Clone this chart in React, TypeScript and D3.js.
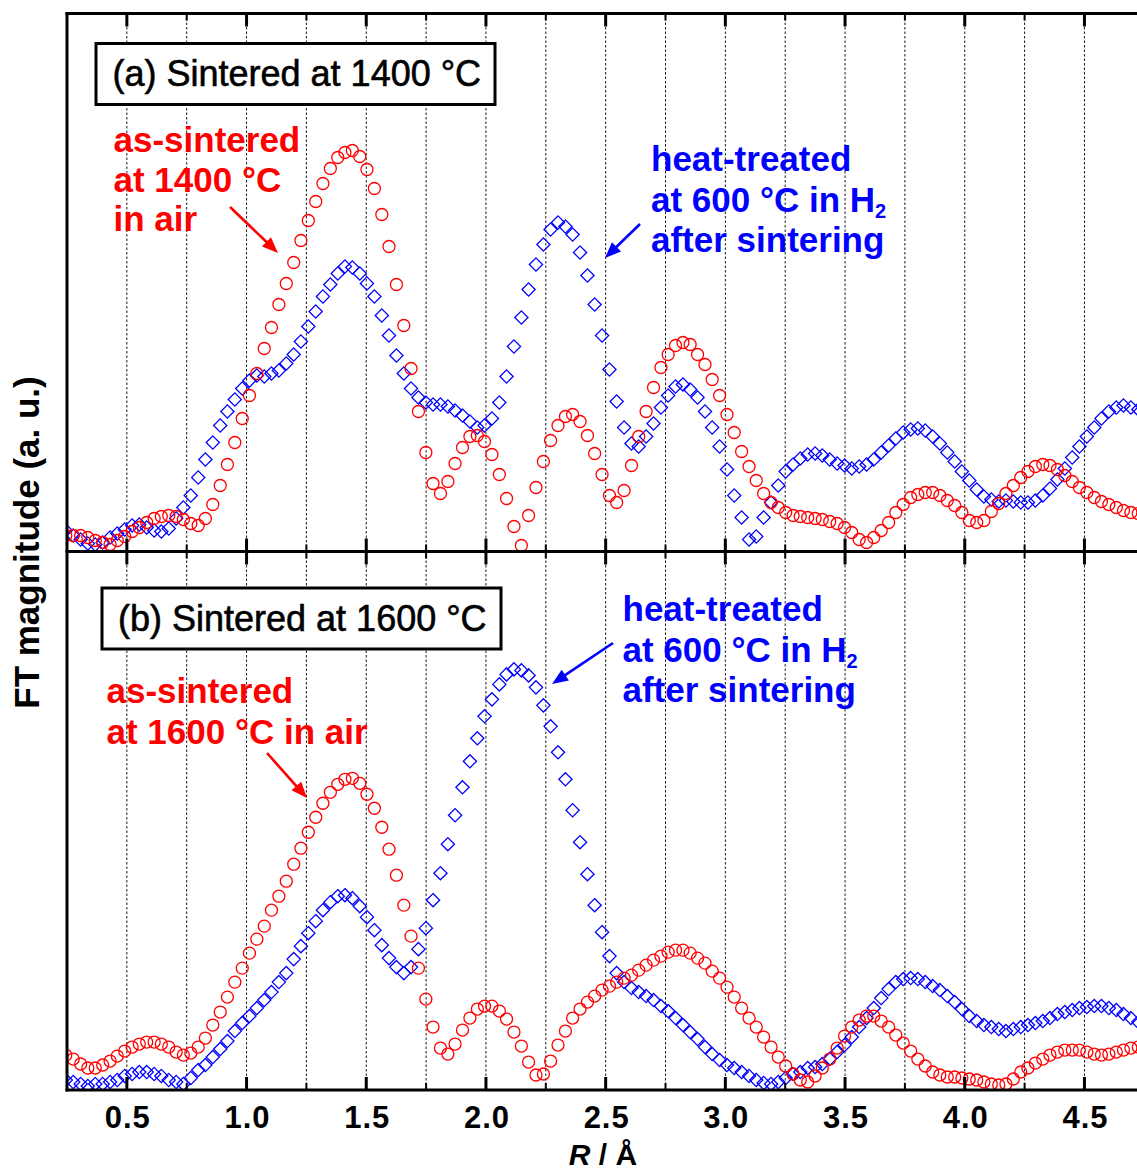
import { useEffect, useRef } from 'react';
import * as d3 from 'd3';

// R grid (Å) of the Fourier transform, one entry per plotted point
const rValues = [
  0.245, 0.276, 0.307, 0.337, 0.368, 0.399, 0.430, 0.460, 0.491, 0.522,
  0.552, 0.583, 0.614, 0.644, 0.675, 0.706, 0.736, 0.767, 0.798, 0.828,
  0.859, 0.890, 0.920, 0.951, 0.982, 1.012, 1.043, 1.074, 1.104, 1.135,
  1.166, 1.197, 1.227, 1.258, 1.289, 1.319, 1.350, 1.381, 1.411, 1.442,
  1.473, 1.503, 1.534, 1.565, 1.595, 1.626, 1.657, 1.687, 1.718, 1.749,
  1.779, 1.810, 1.841, 1.871, 1.902, 1.933, 1.964, 1.994, 2.025, 2.056,
  2.086, 2.117, 2.148, 2.178, 2.209, 2.240, 2.270, 2.301, 2.332, 2.362,
  2.393, 2.424, 2.454, 2.485, 2.516, 2.546, 2.577, 2.608, 2.638, 2.669,
  2.700, 2.731, 2.761, 2.792, 2.823, 2.853, 2.884, 2.915, 2.945, 2.976,
  3.007, 3.037, 3.068, 3.099, 3.129, 3.160, 3.191, 3.221, 3.252, 3.283,
  3.313, 3.344, 3.375, 3.405, 3.436, 3.467, 3.498, 3.528, 3.559, 3.590,
  3.620, 3.651, 3.682, 3.712, 3.743, 3.774, 3.804, 3.835, 3.866, 3.896,
  3.927, 3.958, 3.988, 4.019, 4.050, 4.080, 4.111, 4.142, 4.172, 4.203,
  4.234, 4.264, 4.295, 4.326, 4.356, 4.387, 4.418, 4.449, 4.479, 4.510,
  4.541, 4.571, 4.602, 4.633, 4.663, 4.694, 4.725,
];

// (a) as-sintered at 1400 °C in air (red circles)
const asSintered1400 = [
  1.6, 1.6, 1.6, 1.4, 1.1, 0.9, 0.7, 1.1, 1.5, 2.0,
  2.4, 2.9, 3.3, 3.5, 3.6, 3.5, 3.2, 2.8, 2.6, 3.3,
  4.7, 6.6, 8.7, 10.9, 13.3, 15.6, 17.8, 20.3, 22.4, 24.7,
  26.8, 28.9, 31.1, 33.1, 35.0, 36.8, 38.3, 39.4, 39.9, 40.1,
  39.5, 38.2, 36.3, 33.7, 30.5, 26.7, 22.6, 18.3, 14.0, 9.9,
  6.8, 5.8, 7.0, 8.8, 10.4, 11.5, 11.6, 11.0, 9.7, 7.7,
  5.3, 2.5, 0.6, 3.6, 6.4, 9.0, 11.1, 12.6, 13.5, 13.7,
  13.0, 11.6, 9.8, 7.7, 5.6, 4.9, 6.1, 8.6, 11.5, 14.0,
  16.4, 18.4, 19.7, 20.6, 20.9, 20.7, 19.7, 18.7, 17.2, 15.6,
  13.7, 11.9, 10.0, 8.5, 7.1, 5.8, 4.9, 4.4, 3.9, 3.6,
  3.5, 3.4, 3.3, 3.2, 3.0, 2.8, 2.4, 1.9, 1.2, 0.9,
  1.4, 2.1, 2.9, 3.9, 4.7, 5.4, 5.7, 5.9, 5.9, 5.6,
  5.1, 4.6, 3.9, 3.1, 2.9, 3.1, 4.0, 4.8, 5.8, 6.6,
  7.4, 8.0, 8.5, 8.7, 8.6, 8.2, 7.6, 7.0, 6.4, 5.9,
  5.4, 5.0, 4.7, 4.4, 4.1, 3.9, 3.8,
];

// (a) heat-treated at 600 °C in H2 after sintering at 1400 °C (blue diamonds)
const heatTreated1400 = [
  2.1, 1.6, 1.2, 0.8, 0.7, 0.9, 1.4, 1.8, 2.2, 2.6,
  2.7, 2.4, 2.1, 2.0, 2.3, 3.3, 4.4, 5.6, 7.4, 9.2,
  10.9, 12.6, 14.0, 15.2, 16.3, 17.1, 17.6, 17.5, 17.8, 18.1,
  18.8, 19.7, 21.0, 22.5, 24.0, 25.5, 26.7, 27.8, 28.5, 28.4,
  27.8, 26.8, 25.5, 23.6, 21.6, 19.6, 17.8, 16.3, 15.4, 14.9,
  14.7, 14.7, 14.5, 14.1, 13.6, 13.0, 12.4, 12.6, 13.3, 14.9,
  17.5, 20.5, 23.4, 26.2, 28.7, 30.7, 32.2, 32.9, 32.5, 31.7,
  29.9, 27.6, 24.7, 21.6, 18.2, 15.0, 12.4, 10.8, 10.5, 11.5,
  12.8, 14.4, 15.6, 16.5, 16.7, 16.2, 15.4, 14.0, 12.4, 10.5,
  8.2, 5.6, 3.4, 1.2, 1.5, 3.4, 4.9, 6.6, 8.0, 8.7,
  9.3, 9.7, 9.8, 9.6, 9.2, 8.8, 8.6, 8.3, 8.5, 8.7,
  9.2, 9.9, 10.6, 11.3, 11.9, 12.2, 12.3, 12.1, 11.5, 10.8,
  9.9, 9.0, 8.0, 7.1, 6.2, 5.5, 5.2, 5.0, 5.1, 5.0,
  4.9, 4.9, 5.1, 5.6, 6.3, 7.2, 8.3, 9.4, 10.5, 11.5,
  12.4, 13.3, 14.0, 14.4, 14.6, 14.4, 14.2,
];

// (b) as-sintered at 1600 °C in air (red circles)
const asSintered1600 = [
  3.5, 3.1, 2.6, 2.2, 2.2, 2.5, 2.9, 3.4, 3.9, 4.3,
  4.6, 4.8, 4.8, 4.6, 4.3, 3.8, 3.5, 3.7, 4.3, 5.2,
  6.5, 7.8, 9.3, 10.8, 12.2, 13.7, 15.1, 16.4, 18.0, 19.4,
  20.9, 22.6, 24.2, 25.8, 27.3, 28.7, 29.8, 30.6, 31.1, 31.2,
  30.7, 29.6, 28.2, 26.3, 24.1, 21.5, 18.5, 15.4, 12.2, 9.1,
  6.3, 4.2, 3.6, 4.6, 6.0, 7.2, 8.1, 8.4, 8.4, 7.9,
  7.1, 5.8, 4.4, 2.8, 1.5, 1.6, 2.9, 4.5, 5.9, 7.2,
  8.1, 8.8, 9.4, 10.0, 10.4, 10.8, 11.2, 11.5, 12.0, 12.5,
  13.0, 13.4, 13.8, 14.0, 14.0, 13.7, 13.2, 12.7, 11.9, 11.2,
  10.3, 9.3, 8.2, 7.2, 6.3, 5.3, 4.3, 3.3, 2.4, 1.6,
  1.0, 0.8, 1.4, 2.2, 3.1, 4.2, 5.4, 6.3, 7.0, 7.4,
  7.4, 6.9, 6.3, 5.5, 4.7, 3.9, 3.1, 2.4, 1.8, 1.5,
  1.3, 1.3, 1.2, 1.1, 1.0, 0.8, 0.6, 0.5, 0.6, 1.1,
  1.8, 2.2, 2.7, 3.1, 3.5, 3.8, 4.0, 4.0, 4.0, 3.8,
  3.6, 3.5, 3.6, 3.8, 4.0, 4.2, 4.3,
];

// (b) heat-treated at 600 °C in H2 after sintering at 1600 °C (blue diamonds)
const heatTreated1600 = [
  1.0, 0.8, 0.6, 0.4, 0.6, 0.6, 0.8, 1.0, 1.4, 1.6,
  1.8, 1.8, 1.6, 1.4, 1.0, 0.8, 0.6, 1.2, 2.0, 2.5,
  3.3, 4.1, 4.9, 5.9, 6.7, 7.4, 8.2, 9.0, 9.8, 10.8,
  11.7, 13.1, 14.4, 15.7, 16.9, 18.0, 18.8, 19.4, 19.5, 19.2,
  18.4, 17.3, 16.0, 14.5, 13.2, 12.3, 11.7, 12.3, 14.1, 16.2,
  19.0, 21.7, 24.6, 27.5, 30.3, 32.9, 35.2, 37.4, 39.1, 40.6,
  41.6, 42.1, 42.0, 41.5, 40.3, 38.5, 36.4, 33.8, 31.1, 28.0,
  24.8, 21.6, 18.5, 15.8, 13.4, 11.7, 10.8, 10.2, 9.8, 9.4,
  9.0, 8.4, 7.9, 7.2, 6.5, 5.8, 5.1, 4.3, 3.6, 3.0,
  2.5, 2.2, 1.8, 1.4, 1.0, 0.7, 0.6, 0.8, 1.2, 1.6,
  1.8, 2.2, 2.3, 2.6, 3.1, 3.8, 4.5, 5.3, 6.3, 7.2,
  8.2, 9.2, 10.1, 10.8, 11.1, 11.2, 11.1, 10.8, 10.4, 10.0,
  9.4, 8.8, 8.1, 7.4, 6.9, 6.5, 6.3, 6.1, 5.9, 6.1,
  6.3, 6.5, 6.7, 6.9, 7.2, 7.6, 7.8, 8.0, 8.2, 8.3,
  8.4, 8.4, 8.2, 8.0, 7.6, 7.2, 6.8,
];

const majorTicks = [0.5, 1.0, 1.5, 2.0, 2.5, 3.0, 3.5, 4.0, 4.5];
const minorTicks = [0.75, 1.25, 1.75, 2.25, 2.75, 3.25, 3.75, 4.25, 4.75];
const gridTicks = [...majorTicks, ...minorTicks];

const FONT = '"Liberation Sans", Arial, Helvetica, sans-serif';
const RED = '#ff0000';
const BLUE = '#0000ff';

const WIDTH = 1137;
const HEIGHT = 1173;
const LEFT = 67;
const RIGHT = 1144.3;

type Line = { text: string; sub?: string };

interface PanelSpec {
  id: string;
  top: number;
  bottom: number;
  yMax: number;
  circles: number[];
  diamonds: number[];
  box: { x: number; y: number; w: number; h: number; text: string; tx: number; ty: number };
  redText: { x: number; baselines: number[]; lines: Line[] };
  redArrow: [number, number, number, number];
  blueText: { x: number; baselines: number[]; lines: Line[] };
  blueArrow: [number, number, number, number];
}

const blueLines: Line[] = [
  { text: 'heat-treated' },
  { text: 'at 600 °C in H', sub: '2' },
  { text: 'after sintering' },
];

const panels: PanelSpec[] = [
  {
    id: 'a',
    top: 13.5,
    bottom: 551.5,
    yMax: 53.8,
    circles: asSintered1400,
    diamonds: heatTreated1400,
    box: { x: 96, y: 43.5, w: 399, h: 61, text: '(a) Sintered at 1400 °C', tx: 112.5, ty: 85.5 },
    redText: {
      x: 113.5,
      baselines: [152, 192, 231],
      lines: [{ text: 'as-sintered' }, { text: 'at 1400 °C' }, { text: 'in air' }],
    },
    redArrow: [230, 207, 278, 253],
    blueText: { x: 651, baselines: [171, 211.5, 251.5], lines: blueLines },
    blueArrow: [640, 224, 605, 258],
  },
  {
    id: 'b',
    top: 551.5,
    bottom: 1090,
    yMax: 53.9,
    circles: asSintered1600,
    diamonds: heatTreated1600,
    box: { x: 102, y: 588, w: 399, h: 61, text: '(b) Sintered at 1600 °C', tx: 118, ty: 631 },
    redText: {
      x: 106.5,
      baselines: [703, 744],
      lines: [{ text: 'as-sintered' }, { text: 'at 1600 °C in air' }],
    },
    redArrow: [267, 753, 307, 798],
    blueText: { x: 622.5, baselines: [621, 661.5, 701.5], lines: blueLines },
    blueArrow: [613, 643, 552, 684],
  },
];

export default function App() {
  const svgRef = useRef<SVGSVGElement>(null);

  useEffect(() => {
    if (!svgRef.current) return;
    const svg = d3.select(svgRef.current);
    svg.selectAll('*').remove();

    const x = d3.scaleLinear().domain([0.25, 4.75]).range([LEFT, RIGHT]);
    const defs = svg.append('defs');

    const drawArrow = (
      g: d3.Selection<SVGGElement, unknown, null, undefined>,
      [x1, y1, x2, y2]: [number, number, number, number],
      color: string
    ) => {
      const ang = Math.atan2(y2 - y1, x2 - x1);
      const len = 16;
      const half = 6.5;
      const bx = x2 - len * Math.cos(ang);
      const by = y2 - len * Math.sin(ang);
      g.append('line')
        .attr('x1', x1)
        .attr('y1', y1)
        .attr('x2', bx + 2 * Math.cos(ang))
        .attr('y2', by + 2 * Math.sin(ang))
        .attr('stroke', color)
        .attr('stroke-width', 2.6);
      g.append('polygon')
        .attr(
          'points',
          [
            [x2, y2],
            [bx + half * Math.sin(ang), by - half * Math.cos(ang)],
            [bx - half * Math.sin(ang), by + half * Math.cos(ang)],
          ]
            .map(p => p.join(','))
            .join(' ')
        )
        .attr('fill', color);
    };

    const drawLines = (
      g: d3.Selection<SVGGElement, unknown, null, undefined>,
      spec: { x: number; baselines: number[]; lines: Line[] },
      color: string
    ) => {
      spec.lines.forEach((ln, i) => {
        const t = g
          .append('text')
          .attr('x', spec.x)
          .attr('y', spec.baselines[i])
          .attr('font-family', FONT)
          .attr('font-size', 35)
          .attr('font-weight', 'bold')
          .attr('fill', color);
        t.append('tspan').text(ln.text);
        if (ln.sub) {
          t.append('tspan').attr('font-size', 20).attr('dy', 6).text(ln.sub);
        }
      });
    };

    const diamond = (h: number) => `M0,${-h}L${h},0L0,${h}L${-h},0Z`;

    panels.forEach(p => {
      const y = d3.scaleLinear().domain([0, p.yMax]).range([p.bottom, p.top]);

      defs
        .append('clipPath')
        .attr('id', `clip-${p.id}`)
        .append('rect')
        .attr('x', LEFT)
        .attr('y', p.top)
        .attr('width', RIGHT - LEFT)
        .attr('height', p.bottom - p.top);

      // dotted vertical grid
      svg
        .append('g')
        .selectAll('line')
        .data(gridTicks)
        .join('line')
        .attr('x1', d => x(d))
        .attr('x2', d => x(d))
        .attr('y1', p.top)
        .attr('y2', p.bottom)
        .attr('stroke', '#000')
        .attr('stroke-width', 0.9)
        .attr('stroke-dasharray', '2.5,2');

      // title box
      const ann = svg.append('g');
      ann
        .append('rect')
        .attr('x', p.box.x)
        .attr('y', p.box.y)
        .attr('width', p.box.w)
        .attr('height', p.box.h)
        .attr('fill', '#fff')
        .attr('stroke', '#000')
        .attr('stroke-width', 3);
      ann
        .append('text')
        .attr('x', p.box.tx)
        .attr('y', p.box.ty)
        .attr('font-family', FONT)
        .attr('font-size', 36)
        .attr('fill', '#000')
        .attr('stroke', '#000')
        .attr('stroke-width', 0.6)
        .text(p.box.text);

      // data markers
      const g = svg.append('g').attr('clip-path', `url(#clip-${p.id})`);
      g.selectAll('path')
        .data(p.diamonds)
        .join('path')
        .attr('d', diamond(6.6))
        .attr('transform', (d, i) => `translate(${x(rValues[i])},${y(d)})`)
        .attr('fill', 'none')
        .attr('stroke', BLUE)
        .attr('stroke-width', 1.3);
      g.selectAll('circle')
        .data(p.circles)
        .join('circle')
        .attr('cx', (d, i) => x(rValues[i]))
        .attr('cy', d => y(d))
        .attr('r', 6)
        .attr('fill', 'none')
        .attr('stroke', RED)
        .attr('stroke-width', 1.3);

      // annotations
      const labels = svg.append('g');
      drawLines(labels, p.redText, RED);
      drawLines(labels, p.blueText, BLUE);
      drawArrow(labels, p.redArrow, RED);
      drawArrow(labels, p.blueArrow, BLUE);
    });

    // frame
    const frame = svg.append('g').attr('stroke', '#000').attr('stroke-width', 3);
    [13.5, 551.5, 1090].forEach(yy => {
      frame
        .append('line')
        .attr('x1', LEFT - 1.5)
        .attr('x2', RIGHT)
        .attr('y1', yy)
        .attr('y2', yy);
    });
    frame
      .append('line')
      .attr('x1', LEFT)
      .attr('x2', LEFT)
      .attr('y1', 12)
      .attr('y2', 1091.5);

    // inward ticks on every horizontal axis line
    const tickRows: { y: number; dir: number }[] = [
      { y: 13.5, dir: 1 },
      { y: 551.5, dir: -1 },
      { y: 551.5, dir: 1 },
      { y: 1090, dir: -1 },
    ];
    const ticks = svg.append('g').attr('stroke', '#000');
    tickRows.forEach(row => {
      ticks
        .append('g')
        .selectAll('line')
        .data(majorTicks)
        .join('line')
        .attr('x1', d => x(d))
        .attr('x2', d => x(d))
        .attr('y1', row.y)
        .attr('y2', row.y + row.dir * 13)
        .attr('stroke-width', 3);
      ticks
        .append('g')
        .selectAll('line')
        .data(minorTicks)
        .join('line')
        .attr('x1', d => x(d))
        .attr('x2', d => x(d))
        .attr('y1', row.y)
        .attr('y2', row.y + row.dir * 7)
        .attr('stroke-width', 2);
    });

    // tick labels
    const axis = svg
      .append('g')
      .attr('transform', 'translate(0,1090)')
      .call(
        d3
          .axisBottom(x)
          .tickValues(majorTicks)
          .tickFormat(d3.format('.1f'))
          .tickSize(0)
          .tickPadding(16)
      );
    axis.select('.domain').remove();
    axis
      .attr('font-family', FONT)
      .attr('font-size', 31)
      .attr('font-weight', 'bold');
    axis.selectAll('text').attr('fill', '#000').attr('textLength', 45);

    // axis titles
    const xt = svg
      .append('text')
      .attr('x', 603)
      .attr('y', 1165)
      .attr('text-anchor', 'middle')
      .attr('font-family', FONT)
      .attr('font-size', 30)
      .attr('font-weight', 'bold')
      .attr('fill', '#000');
    xt.append('tspan').attr('font-style', 'italic').text('R');
    xt.append('tspan').text(' / Å');

    svg
      .append('text')
      .attr('transform', 'translate(38.5,542.5) rotate(-90)')
      .attr('text-anchor', 'middle')
      .attr('font-family', FONT)
      .attr('font-size', 35)
      .attr('font-weight', 'bold')
      .attr('fill', '#000')
      .text('FT magnitude (a. u.)');
  }, []);

  return (
    <svg
      ref={svgRef}
      width={WIDTH}
      height={HEIGHT}
      style={{ position: 'absolute', left: 0, top: 0, background: '#fff' }}
    />
  );
}
